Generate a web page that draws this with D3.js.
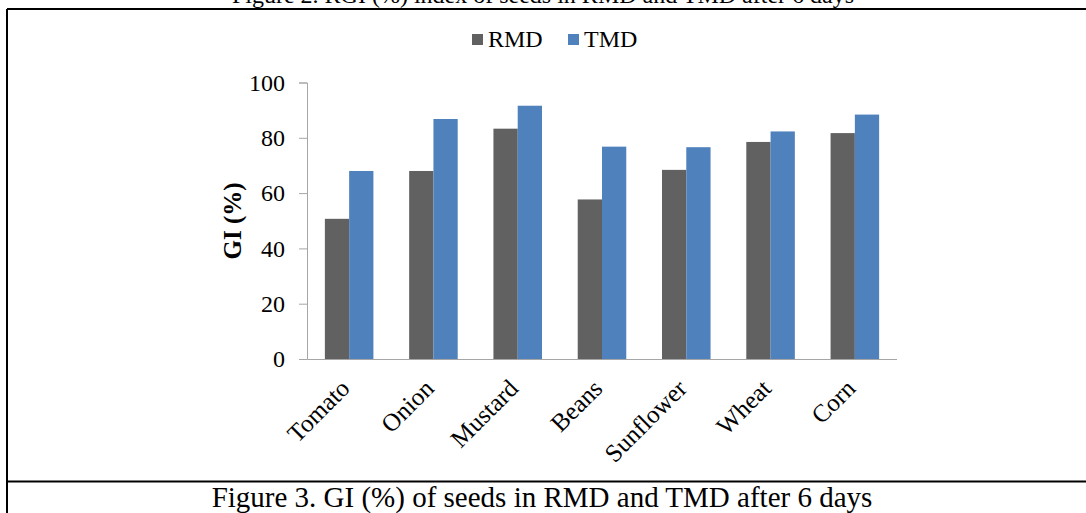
<!DOCTYPE html>
<html>
<head>
<meta charset="utf-8">
<script src="https://cdn.jsdelivr.net/npm/d3@7"></script>
<style>
  body { margin: 0; background: #fff; }
  svg { display: block; font-family: "Liberation Serif", "Times New Roman", serif; }
</style>
</head>
<body>
<div id="chart"></div>
<script>
var crops = ['Tomato','Onion','Mustard','Beans','Sunflower','Wheat','Corn'];
var seriesNames = ['RMD','TMD'];
var rmd = [50.7, 68.0, 83.3, 57.7, 68.4, 78.5, 81.7];
var tmd = [68.0, 86.8, 91.6, 76.8, 76.6, 82.3, 88.4];
var yTicks = [0, 20, 40, 60, 80, 100];
var colors = ['#616161', '#4f81bd'];

var width = 1086, height = 513;

var svg = d3.select('#chart')
    .append('svg')
    .attr('width', width)
    .attr('height', height);

// caption of the figure above, cut off by the page edge
svg.append('text')
    .attr('x', 543)
    .attr('y', 3)
    .attr('text-anchor', 'middle')
    .style('font-size', '24px')
    .text('Figure 2. RGI (%) index of seeds in RMD and TMD after 6 days');

// frame lines
svg.append('line').attr('x1', 7).attr('x2', width).attr('y1', 9).attr('y2', 9)
    .attr('stroke', '#000').attr('stroke-width', 2);
svg.append('line').attr('x1', 7).attr('x2', 7).attr('y1', 9).attr('y2', height)
    .attr('stroke', '#000').attr('stroke-width', 2);
svg.append('line').attr('x1', 7).attr('x2', width).attr('y1', 481.5).attr('y2', 481.5)
    .attr('stroke', '#000').attr('stroke-width', 2);

var x0 = d3.scaleBand()
    .domain(crops)
    .range([307, 897])
    .paddingInner(0.424)
    .paddingOuter(0.212);

var x1 = d3.scaleBand()
    .domain(seriesNames)
    .range([0, x0.bandwidth()]);

var y = d3.scaleLinear()
    .domain([0, 100])
    .range([359, 82.5]);

// y axis
var yAxis = svg.append('g')
    .attr('transform', 'translate(307,0)')
    .call(d3.axisLeft(y).tickValues(yTicks).tickSize(8).tickPadding(14));
yAxis.select('.domain').attr('stroke', '#a6a6a6');
yAxis.selectAll('.tick line').attr('stroke', '#a6a6a6');
yAxis.selectAll('.tick text')
    .style('font-size', '24px')
    .style('font-family', '"Liberation Serif", serif')
    .attr('fill', '#000');

svg.append('text')
    .attr('transform', 'translate(241,221)rotate(-90)')
    .attr('text-anchor', 'middle')
    .style('font-size', '25px')
    .style('font-weight', 'bold')
    .text('GI (%)');

// bars
var data = crops.map((c, i) => ({crop: c, vals: [rmd[i], tmd[i]]}));

var groups = svg.append('g').selectAll('g')
    .data(data)
    .join('g')
    .attr('transform', d => `translate(${x0(d.crop)},0)`);

groups.selectAll('rect')
    .data(d => d.vals.map((v, j) => ({key: seriesNames[j], v: v, j: j})))
    .join('rect')
    .attr('x', d => x1(d.key))
    .attr('width', x1.bandwidth())
    .attr('y', d => y(d.v))
    .attr('height', d => y(0) - y(d.v))
    .attr('fill', d => colors[d.j]);

// x axis
var xAxis = svg.append('g')
    .attr('transform', 'translate(0,359)')
    .call(d3.axisBottom(x0).tickSize(0).tickSizeOuter(0));
xAxis.select('.domain').attr('stroke', '#a6a6a6').attr('d', 'M307.5,0.5H897');
xAxis.selectAll('.tick text')
    .style('font-size', '25px')
    .style('font-family', '"Liberation Serif", serif')
    .attr('fill', '#000')
    .attr('text-anchor', 'end')
    .attr('dy', null)
    .attr('y', 0)
    .attr('transform', 'translate(2,31)rotate(-45)');

// legend
var legend = svg.append('g');
var legX = [472, 568];
seriesNames.forEach((s, i) => {
    legend.append('rect')
        .attr('x', legX[i]).attr('y', 34)
        .attr('width', 11).attr('height', 11)
        .attr('fill', colors[i]);
    legend.append('text')
        .attr('x', legX[i] + 16).attr('y', 47)
        .style('font-size', '24px')
        .text(s);
});

// caption
svg.append('text')
    .attr('x', 542)
    .attr('y', 507)
    .attr('text-anchor', 'middle')
    .style('font-size', '29px')
    .text('Figure 3. GI (%) of seeds in RMD and TMD after 6 days');
</script>
</body>
</html>
